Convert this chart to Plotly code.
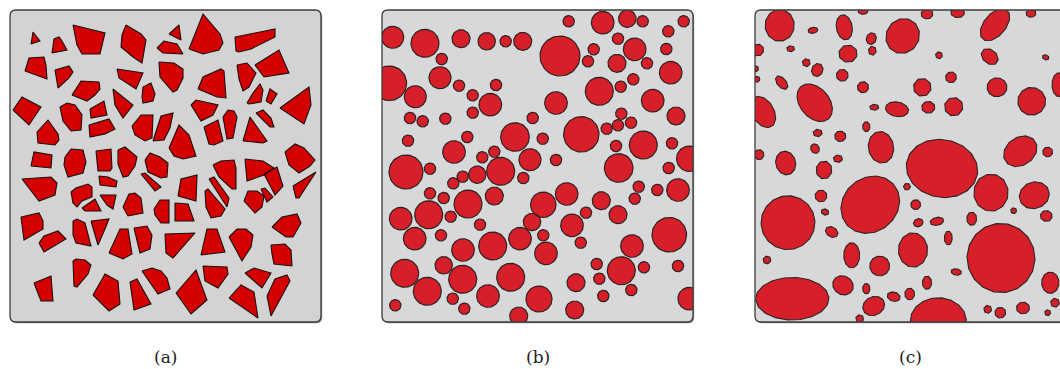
import numpy as np
import plotly.graph_objects as go

W, H = 1060, 369

# ---------------- (a) polygonal particles: vertex lists in panel units (y down)
A_POLYGONS = [
    [(21, 34), (23, 22), (30, 31)],
    [(42, 43), (44, 29), (49, 27), (52, 31), (57, 40)],
    [(63, 15), (95, 23), (90, 44), (72, 44), (67, 35)],
    [(116, 15), (131, 24), (136, 30), (132, 53), (123, 47), (111, 37), (112, 25)],
    [(147, 38), (154, 31), (167, 34), (173, 44), (153, 43)],
    [(159, 24), (169, 15), (171, 30)],
    [(15, 61), (19, 48), (34, 47), (36, 55), (37, 69)],
    [(45, 60), (59, 56), (63, 62), (59, 68), (48, 78)],
    [(62, 85), (71, 71), (89, 72), (90, 79), (85, 85), (77, 91)],
    [(107, 59), (133, 63), (126, 79), (109, 68)],
    [(132, 87), (133, 77), (141, 73), (145, 84), (143, 91), (133, 93)],
    [(149, 52), (164, 53), (173, 59), (173, 68), (167, 80), (163, 82), (150, 67)],
    [(3, 100), (12, 87), (31, 97), (19, 115)],
    [(50, 97), (57, 93), (65, 95), (72, 105), (71, 120), (61, 121), (53, 111)],
    [(80, 99), (94, 91), (97, 105), (81, 108)],
    [(79, 115), (99, 109), (105, 119), (95, 124), (80, 127)],
    [(103, 79), (123, 95), (113, 108), (105, 95)],
    [(27, 122), (38, 110), (48, 124), (49, 130), (45, 135), (28, 133)],
    [(122, 116), (131, 105), (143, 105), (142, 128), (135, 131), (125, 125)],
    [(143, 131), (151, 106), (163, 103), (160, 118), (154, 130)],
    [(21, 156), (24, 142), (42, 145), (41, 158)],
    [(55, 147), (61, 139), (73, 140), (76, 152), (73, 163), (58, 167), (54, 155)],
    [(86, 141), (101, 139), (102, 158), (100, 161), (88, 161)],
    [(108, 140), (115, 137), (127, 147), (125, 156), (118, 166), (113, 167), (108, 154)],
    [(135, 150), (140, 143), (150, 147), (158, 153), (157, 167), (151, 168), (138, 162)],
    [(179, 39), (193, 4), (210, 24), (213, 33), (209, 40), (193, 44)],
    [(225, 27), (265, 19), (265, 27), (241, 39), (229, 42), (226, 41)],
    [(245, 55), (269, 40), (279, 63), (254, 67)],
    [(227, 55), (237, 53), (246, 63), (239, 77), (233, 81), (229, 69)],
    [(188, 79), (193, 67), (211, 59), (214, 61), (216, 88), (207, 87)],
    [(237, 93), (243, 83), (250, 74), (253, 80), (251, 92), (239, 94)],
    [(256, 91), (260, 79), (267, 84), (261, 94)],
    [(270, 98), (299, 77), (301, 95), (294, 114)],
    [(181, 95), (186, 90), (208, 95), (203, 105), (191, 111)],
    [(194, 117), (208, 110), (213, 131), (204, 135), (199, 134)],
    [(213, 107), (218, 100), (224, 101), (227, 107), (223, 128), (217, 129)],
    [(233, 131), (240, 107), (257, 131), (253, 133)],
    [(246, 103), (253, 100), (261, 108), (264, 117), (260, 117)],
    [(159, 138), (169, 115), (179, 125), (186, 146), (173, 149), (164, 146)],
    [(275, 142), (285, 134), (294, 138), (305, 150), (300, 156), (289, 163), (279, 155)],
    [(203, 155), (211, 151), (224, 150), (226, 158), (226, 179), (222, 179), (209, 167), (204, 158)],
    [(235, 149), (253, 151), (264, 158), (254, 165), (237, 171)],
    [(12, 169), (41, 167), (47, 173), (45, 185), (29, 191)],
    [(131, 164), (135, 163), (151, 177), (145, 181)],
    [(89, 166), (98, 167), (107, 171), (106, 177), (90, 175)],
    [(61, 182), (66, 178), (78, 174), (82, 177), (82, 187), (72, 191), (67, 197), (63, 193)],
    [(72, 198), (85, 189), (91, 201), (75, 201)],
    [(90, 185), (106, 185), (103, 199), (97, 195)],
    [(113, 197), (119, 184), (125, 183), (131, 188), (133, 203), (118, 206)],
    [(144, 199), (150, 190), (159, 190), (159, 213), (151, 213), (145, 205)],
    [(11, 207), (29, 203), (33, 211), (33, 219), (14, 230)],
    [(29, 233), (34, 226), (48, 221), (56, 229), (34, 242)],
    [(63, 211), (67, 209), (75, 213), (81, 236), (66, 233), (63, 225)],
    [(81, 211), (99, 209), (95, 219), (88, 235)],
    [(99, 243), (110, 219), (118, 219), (122, 244), (113, 249)],
    [(124, 218), (137, 216), (142, 225), (140, 239), (130, 243)],
    [(155, 224), (185, 223), (163, 248), (156, 243)],
    [(63, 251), (66, 249), (75, 250), (81, 255), (78, 264), (67, 277), (64, 276)],
    [(24, 273), (41, 266), (43, 291), (31, 291)],
    [(83, 285), (95, 264), (108, 271), (110, 294), (99, 301)],
    [(120, 272), (127, 269), (141, 294), (124, 300)],
    [(132, 261), (142, 258), (151, 261), (157, 268), (160, 279), (148, 284)],
    [(168, 186), (171, 169), (187, 165), (186, 191)],
    [(199, 169), (204, 167), (219, 188), (217, 197)],
    [(195, 181), (198, 179), (215, 199), (211, 206), (201, 208), (196, 197)],
    [(165, 193), (178, 194), (184, 211), (165, 211)],
    [(191, 245), (197, 219), (207, 219), (215, 242)],
    [(219, 227), (227, 219), (236, 219), (243, 225), (241, 237), (232, 251)],
    [(234, 191), (238, 181), (247, 181), (254, 186), (252, 197), (245, 203)],
    [(251, 179), (255, 178), (263, 187), (257, 192)],
    [(254, 164), (267, 157), (273, 176), (265, 185)],
    [(283, 176), (306, 162), (289, 188), (286, 188)],
    [(262, 217), (272, 207), (287, 204), (291, 213), (283, 227), (276, 227)],
    [(261, 235), (275, 234), (281, 240), (282, 256), (264, 254), (262, 244)],
    [(193, 256), (217, 257), (218, 264), (208, 278), (195, 271)],
    [(235, 263), (244, 258), (261, 263), (252, 278)],
    [(166, 283), (186, 260), (197, 290), (181, 304)],
    [(219, 288), (231, 275), (244, 282), (248, 308)],
    [(257, 286), (265, 269), (277, 265), (280, 271), (261, 306)],
]

# ---------------- (b) circular particles: centre and radius in panel units
B_X = [10.7, 43, 79, 104.7, 123.7, 140.7, 59.7, 7.3, 58, 33.3, 77, 114, 90.7, 108.3,
       28, 40.7, 63.3, 90.7, 150.7, 133, 26, 85.3, 72, 112.3, 100.3, 24, 48, 118.7, 148, 95.3,
       186.7, 220.7, 245.3, 260.7, 301.7, 286.3, 236, 178, 211.7, 252.7, 284.3, 206, 235,
       265, 288.7, 251.3, 238.7, 217.3, 174, 270.7, 239.3, 294, 236, 249, 224.7, 199.3,
       160.7, 261.3, 234, 290, 307.3, 174, 236.7, 286.7,
       71.3, 80.7, 141.3, 48, 61.7, 86, 112.3, 18.7, 46.7, 68.7, 98, 150, 161.3, 32.7, 59,
       81, 110.7, 138, 161.3, 164, 22.7, 61.7, 80.7, 128.7, 45.3, 70.7, 106, 13.3, 82.3,
       157, 136.7,
       256.7, 275.3, 296, 184.7, 219.3, 252.7, 204, 236, 190, 287.3, 198.7, 250, 214.7,
       239.3, 262, 296, 194, 217.3, 249.3, 221.3, 307.3, 192.7]
B_Y = [27.3, 33.3, 28.7, 31.3, 31.3, 31.3, 49, 73.3, 67.7, 86.7, 75.7, 75, 85.3, 94.7,
       108, 111.3, 108.7, 102.7, 108, 127, 130.7, 127, 142, 141.7, 147.3, 162, 158.7, 161.3, 149.7, 164.7,
       11.3, 12.7, 8.7, 11.3, 11.3, 21.3, 28.7, 46, 39.3, 39.3, 39, 51.3, 53.3,
       53.3, 62.7, 69.3, 76.7, 81.3, 93, 90.7, 103.7, 106, 115.3, 112.7, 118.7, 124.3,
       128.7, 135, 136, 133.3, 148.7, 150, 158, 158,
       173.3, 166.7, 168, 183.3, 188, 194, 186, 208.7, 204.7, 206.7, 214.7, 212, 194.7, 228.7, 225.3,
       240, 236, 228.7, 225.3, 243.3, 263.3, 255.3, 269.3, 267.3, 281.3, 288.7, 286, 295.3, 298.7,
       289, 306,
       176.7, 180, 180, 184, 190.7, 188.7, 202.7, 204.7, 215.3, 224.7, 232.7, 236, 254,
       260.7, 257.3, 256, 272.7, 268.7, 280, 286, 288.7, 300]
B_R = [11, 14, 9, 8.7, 5.7, 9, 5.7, 17.3, 11, 11, 5.7, 5.7, 5.7, 11.3,
       5.7, 5.7, 5.7, 5.7, 5.7, 14.3, 5.7, 5.7, 11.3, 5.7, 5.7, 17, 5.7, 14, 11, 8.7,
       5.7, 11.3, 8.7, 5.7, 5.7, 5.7, 5.7, 20, 5.7, 11.3, 5.7, 5.7, 9,
       5.7, 11.3, 5.7, 5.7, 14, 11.3, 11.3, 5.7, 9, 5.7, 5.7, 5.7, 17.7,
       5.7, 14, 5.7, 5.7, 12.7, 5.7, 14.3, 5.7,
       5.7, 5.7, 5.7, 5.7, 5.7, 14, 9, 11.3, 14, 5.7, 5.7, 8.7, 12.7, 11.3, 5.7,
       11.3, 14, 11.3, 5.7, 11.3, 14, 8.7, 14, 14, 14, 5.7, 11.3, 5.7, 5.7,
       13, 9,
       5.7, 5.7, 11.3, 11.3, 9, 5.7, 5.7, 9, 11.3, 17.3, 5.7, 11.3, 5.7,
       14, 5.7, 5.7, 9, 5.7, 5.7, 5.7, 11.3, 9]

# ---------------- (c) faceted elliptical particles: centre, semi-axes, tilt (deg)
C_X = [24.7, 58, 89.3, 108, 116.3, 117.3, 147.7, 2.7, 35.7, 93, 51.3, 62.3, 0.7, 87.3, 2,
       26.7, 108, 59.7, 8, 119.3, 142, 111.3, 62.7, 85.3, 126, 60, 83, 4, 30.7, 69,
       172, 202.7, 240, 276, 184, 234.7, 290.7, 196, 167.3, 242, 304, 276.7, 173.3, 198.7,
       187, 265.3, 292.7,
       115.3, 152, 66, 70, 33, 76.7, 158, 96.7, 12, 124.7, 88, 111.3, 37.3, 138.7, 154.7,
       118.7, 104.7,
       236, 279.3, 160.7, 258.7, 291.3, 216.7, 163.3, 182, 193.3, 246, 201.3, 172, 295.3,
       300, 183.3, 232.7, 245.3, 268, 292.7]
C_Y = [15.3, 20.3, 17.3, 1.3, 28.7, 40.7, 26, 40, 38.7, 43.7, 52.7, 60, 58.7, 65.3, 69.3,
       72.7, 77.3, 92.7, 102, 97.3, 99.3, 116.7, 123, 126.3, 137.3, 138.7, 148.7, 144.7, 153, 160,
       4, 2.7, 14.7, 3.3, 45.3, 46.7, 47.3, 67.3, 77.3, 77.3, 74.7, 91.3, 97.3, 96.7,
       158.5, 141.3, 142,
       194.7, 176.7, 186, 202, 212.7, 222, 240, 245.3, 250, 256, 275.3, 278.7, 288.7, 286.7, 284,
       296, 308.7,
       182.7, 185.3, 194.7, 200.7, 206, 208.7, 212.7, 211.3, 228, 248, 262, 272.7, 272.7,
       292.7, 310.7, 299.3, 302.7, 298, 302.7]
C_RX = [14.7, 5, 8, 5, 5, 4, 16.5, 6, 4, 9.3, 4, 5.7, 3, 6, 3,
        8, 5.7, 21.3, 17, 4.7, 11.7, 3.7, 4.7, 5.7, 12.7, 4.3, 4.7, 5, 10, 8,
        6, 7, 19, 5, 3.5, 9.5, 3.5, 5.5, 9, 10, 7, 14, 6.7, 9.3,
        36, 18, 5,
        31, 3.5, 6, 4, 27, 6.7, 14.7, 8, 4, 10, 10.7, 3.7, 36.7, 6.7, 5,
        11.3, 4,
        17.3, 15.3, 5, 3, 6, 5, 5, 7, 4, 34, 5.3, 4.7, 8.7,
        4.5, 28, 4, 5.5, 6.7, 3]
C_RY = [16, 3, 12.7, 3, 6, 4.5, 18, 6, 3, 8.7, 4, 6.7, 3, 6, 3,
        4.5, 5.7, 14.7, 11, 3, 7.3, 5, 3.7, 5.3, 16, 5, 3.7, 5, 12, 9,
        5, 5, 11, 4, 3.5, 7, 2.5, 5.5, 9, 9.5, 12, 14, 6, 9.3,
        29, 14, 5,
        27, 3.5, 6, 3, 27, 5, 17.3, 12.7, 4, 10, 9.3, 5.3, 21.3, 4.7, 6,
        9.3, 4,
        18.7, 13.3, 5, 3, 5.5, 6.7, 4, 4, 7, 34.7, 3.3, 6.7, 10.7,
        4.5, 23, 4, 5.5, 6, 3]
C_ANGLE = [0, -10, -10, 0, 20, 0, 30, 0, 0, 0, 0, 20, 0, 0, 0,
           50, 0, 50, 60, 0, 10, 0, 0, 0, -10, -30, 0, 0, -15, 0,
           0, 0, -50, 0, 0, 40, 20, 0, 0, 0, 0, 0, 0, 0,
           10, -35, 45,
           -40, 45, 0, 20, 0, 30, 0, 0, 0, 0, 30, 0, 0, 15, 0,
           -25, 0,
           0, -20, 45, 0, 0, 0, -20, -10, 0, -15, 10, 0, 0,
           0, 0, 0, 0, 0, 0]

LABELS = ["(a)", "(b)", "(c)"]

# panel boxes in figure pixels: left, top, width, height
BOXES = [(10, 10, 311, 312), (382, 10, 311, 312), (755, 10, 311, 312)]
BG_COLORS = ["#d3d3d3", "#d7d8da", "#d7d8da"]


def join_shapes(shapes):
    xs, ys = [], []
    for pts in shapes:
        pts = list(pts) + [pts[0]]
        xs += [p[0] for p in pts] + [None]
        ys += [p[1] for p in pts] + [None]
    return xs, ys


def circle_pts(cx, cy, r, n=56):
    t = np.linspace(0, 2 * np.pi, n, endpoint=False)
    return list(zip(cx + r * np.cos(t), cy + r * np.sin(t)))


def facet_pts(cx, cy, rx, ry, ang):
    big = max(rx, ry)
    n = 6 if big < 5 else 8 if big < 10 else 12 if big < 20 else 18
    a = np.radians(ang)
    t = np.linspace(0, 2 * np.pi, n, endpoint=False) + 0.3
    ex, ey = rx * np.cos(t), ry * np.sin(t)
    return list(zip(cx + ex * np.cos(a) - ey * np.sin(a),
                    cy + ex * np.sin(a) + ey * np.cos(a)))


def rounded_rect(x0, y0, w, h, r):
    px = lambda v: v / W
    py = lambda v: 1 - v / H
    x1, y1 = x0 + w, y0 + h
    return (f"M{px(x0 + r)},{py(y0)} L{px(x1 - r)},{py(y0)} Q{px(x1)},{py(y0)} {px(x1)},{py(y0 + r)} "
            f"L{px(x1)},{py(y1 - r)} Q{px(x1)},{py(y1)} {px(x1 - r)},{py(y1)} "
            f"L{px(x0 + r)},{py(y1)} Q{px(x0)},{py(y1)} {px(x0)},{py(y1 - r)} "
            f"L{px(x0)},{py(y0 + r)} Q{px(x0)},{py(y0)} {px(x0 + r)},{py(y0)} Z")


fig = go.Figure()

panel_shapes = [
    A_POLYGONS,
    [circle_pts(x, y, r) for x, y, r in zip(B_X, B_Y, B_R)],
    [facet_pts(*p) for p in zip(C_X, C_Y, C_RX, C_RY, C_ANGLE)],
]
fills = ["#d40000", "#d61f28", "#d61f28"]
edges = ["#1c1010", "#302222", "#302222"]
widths = [1.1, 1.2, 1.1]

layout_axes = {}
shapes = []
annotations = []
for i, (box, parts) in enumerate(zip(BOXES, panel_shapes)):
    x0, y0, w, h = box
    vis_w = min(w, W - x0)
    sfx = "" if i == 0 else str(i + 1)
    xs, ys = join_shapes(parts)
    fig.add_trace(go.Scatter(
        x=xs, y=ys, mode="lines", fill="toself", fillcolor=fills[i],
        line=dict(color=edges[i], width=widths[i]), hoverinfo="skip",
        showlegend=False, xaxis="x" + sfx, yaxis="y" + sfx))
    layout_axes["xaxis" + sfx] = dict(
        domain=[x0 / W, min(1, (x0 + w) / W)], range=[0, vis_w], visible=False,
        fixedrange=True, anchor="y" + sfx)
    layout_axes["yaxis" + sfx] = dict(
        domain=[1 - (y0 + h) / H, 1 - y0 / H], range=[h, 0], visible=False,
        fixedrange=True, anchor="x" + sfx)
    # drop shadow, panel background and frame
    shapes.append(dict(type="path", xref="paper", yref="paper", layer="below",
                       path=rounded_rect(x0 + 1.2, y0 + 1.2, w, h, 6),
                       fillcolor="#8a8a8a", line=dict(width=0)))
    shapes.append(dict(type="path", xref="paper", yref="paper", layer="below",
                       path=rounded_rect(x0, y0, w, h, 6),
                       fillcolor=BG_COLORS[i], line=dict(width=0)))
    shapes.append(dict(type="path", xref="paper", yref="paper", layer="above",
                       path=rounded_rect(x0, y0, w, h, 6),
                       fillcolor="rgba(0,0,0,0)", line=dict(color="#3c3c3c", width=1.3)))
    annotations.append(dict(
        text=LABELS[i], x=(x0 + w / 2) / W, y=1 - 357 / H, xref="paper", yref="paper",
        showarrow=False, xanchor="center", yanchor="middle",
        font=dict(family="DejaVu Serif", size=17, color="#222222")))

fig.update_layout(
    width=W, height=H, margin=dict(l=0, r=0, t=0, b=0, pad=0),
    paper_bgcolor="white", plot_bgcolor="rgba(0,0,0,0)",
    shapes=shapes, annotations=annotations, showlegend=False,
    **layout_axes)

fig.write_html("out.html", config={"displayModeBar": False})
